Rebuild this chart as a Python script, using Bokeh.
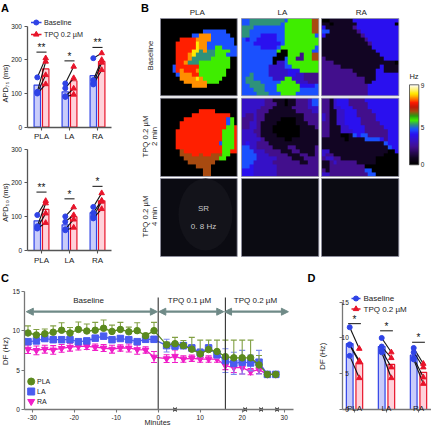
import numpy as np
from bokeh.plotting import figure
from bokeh.layouts import column, row
from bokeh.models import Range1d, FixedTicker, Arrow, NormalHead, LinearColorMapper
from bokeh.core.properties import value
from bokeh.embed import file_html
from bokeh.resources import INLINE

FONT = "Liberation Sans"
BLUE, BLUE_FILL = "#2f43e6", "#c9ccfa"
RED, RED_FILL = "#e8142a", "#ffd2da"
GREEN, GREEN_ERR, LAB, MAG = "#5b8a1e", "#82a044", "#4a5cf0", "#f01ec8"
ARROW = "#6f8a87"

# ---------- panel A data
regions = ["PLA", "LA", "RA"]
apd75_base_bar = [125, 105, 153]
apd75_tpq_bar = [173, 138, 195]
apd75_base_pts = [[148, 105, 102, 100], [130, 116, 92, 90], [205, 140, 130, 127]]
apd75_tpq_pts = [[205, 195, 155, 128], [180, 146, 115, 97], [220, 200, 192, 170]]
apd75_sig = [223, 197, 237]
apd50_base_bar = [88, 76, 112]
apd50_tpq_bar = [122, 100, 147]
apd50_base_pts = [[105, 72, 67, 65], [101, 85, 63, 60], [129, 112, 100, 95]]
apd50_tpq_pts = [[147, 140, 110, 82], [128, 105, 92, 68], [170, 148, 145, 123]]
apd50_sig = [173, 153, 190]
sig_marks_75 = ["**", "*", "**"]
sig_marks_50 = ["**", "*", "*"]

# ---------- panel C data
c_minutes = [-31, -29, -27, -25, -23, -21, -19, -17, -15, -13, -11, -9, -7, -5, -3, -1,
             2, 4, 6, 8, 10, 12, 14, 16, 18, 20, 22, 24, 26, 28]
pla_df = [9.7, 9.45, 9.6, 9.8, 10.05, 9.7, 10.15, 9.95, 10.05, 10.3, 9.9, 10.15, 9.85, 10.0, 9.35, 10.0,
          8.2, 8.35, 8.1, 7.65, 7.05, 7.6, 7.35, 6.7, 6.55, 6.55, 6.55, 5.65, 4.45, 4.45]
pla_err = [0.9, 0.7, 0.6, 0.8, 0.95, 0.7, 0.95, 0.9, 1.0, 1.05, 0.8, 0.9, 0.6, 1.0, 0.3, 1.05,
           0.35, 0.8, 0.65, 1.5, 1.75, 1.2, 1.45, 2.1, 2.25, 2.25, 2.25, 1.2, 0, 0]
la_df = [8.6, 8.7, 9.0, 8.85, 8.85, 8.85, 8.6, 8.7, 9.05, 9.3, 8.85, 9.0, 8.85, 8.6, 8.9, 8.9,
         8.1, 8.05, 8.1, 7.8, 7.2, 7.8, 7.0, 6.2, 5.85, 6.0, 5.9, 6.0, 4.45, 4.45]
la_err = [0.3, 0.3, 0.3, 0.3, 0.3, 0.3, 0.3, 0.3, 0.3, 0.3, 0.3, 0.3, 0.3, 0.3, 0.3, 0.3,
          0.8, 0.4, 0.4, 0.4, 0.5, 0.4, 0.5, 1.5, 1.4, 1.5, 1.0, 1.5, 0, 0]
ra_df = [7.65, 7.5, 7.65, 7.55, 7.75, 7.9, 8.0, 8.0, 7.9, 7.8, 7.65, 7.8, 7.8, 7.6, 7.55, 6.65,
         6.45, 6.75, 6.4, 6.5, 6.4, 6.4, 6.4, 5.55, 5.3, 5.3, 4.8, 5.05, 4.45, 4.45]
ra_err = [0.55, 0.55, 0.5, 0.55, 0.5, 0.5, 0.45, 0.4, 0.4, 0.45, 0.5, 0.4, 0.5, 0.6, 0.4, 0.7,
          0.5, 0.8, 0.4, 0.4, 0.4, 0.4, 0.4, 0.5, 0.6, 0.8, 0.4, 0.5, 0, 0]
c_x_marks = [4, 20.7, 24.5, 28.3]

# ---------- panel D data
d_base_bar = [9.2, 8.8, 7.6]
d_tpq_bar = [6.5, 6.3, 5.2]
d_base_pts = [[11.5, 9.1, 9.0, 7.5], [10.0, 8.8, 8.3, 8.0], [8.6, 8.0, 7.2, 7.0]]
d_tpq_pts = [[8.5, 6.8, 6.6, 4.4], [8.0, 7.2, 5.9, 4.4], [6.4, 5.9, 4.5, 3.6]]
d_sig = [12.0, 11.0, 9.4]

# ---------- panel B data: dominant frequency maps, one letter per cell
hz = {".": 0.0, "a": 0.8, "b": 2.0, "c": 2.8, "d": 3.4, "e": 4.0, "f": 4.5, "g": 5.0,
      "h": 6.0, "r": 7.0, "o": 7.5, "y": 8.0}
map_base_pla = [
    "....................", "....................", "....................",
    "...........eeeeee...", "........eeoooeeeee..", ".....rrrrooooeeeeee.",
    "....rrrrryooeeeeeee.", "....rrrrryooeeggeeee", "....rrrryyfoffggggee",
    "....rrroyfffffgggeee", "....rrrofffffggggg..", "....rrofffgggggggg..",
    "...errrrrrgggggggg..", "...erorrroggggggg...", "....eooorrggggggg...",
    ".....ooooyoggggg....", "......ooooooggg.....", "........oooo........",
    "....................", "...................."]
map_base_la = [
    "eefffffffffegggggghh", "eeffffffffeggggggghh", "fffeeeeeeeeggggggghh",
    "ffeeeeeeeeeggggggghh", "ffeeeddddeegggggggge", "edeedddddeeggggggggg",
    "eeedddddddeggggggggg", "eeeeeddddeggggggggge", "eeeeeeeeeg..ggggggee",
    "eeeeeeeee...gggbgghh", "eeeeeeee...eggbbgghh", "eeeeeeee.ccegggggggg",
    "eeeeeeecccceeggggggg", "eeeeeeecccccdddggggg", "eefeeeecccccddccbbbb",
    "effeeeeecccggcccbbbb", "effffeeeeeggggcccbbb", "eeffffeeeggggggdddde",
    "eeefffeeeggggggeeeee", "eeeefffeeeggggeeeeee"]
map_base_ra = [
    "..aaaaaadddddddddddd", "aa.aaaaaadddddddddd", "daaaaaaabddddddddddd",
    "eeaaaaaaabdddddddddd", "daaaaaaaaabddddddddd", "aaaaaaaaaaabdddddddd",
    "aaaaaaaaaaaabddddddd", "aaaaaaaaaaaaaddddddd", "aaaaaaaaaaaaaadddddd",
    "aaaaaaaaaaaaaaaddddd", "baaaaaaaaaaaaaaadddd", "bbbaaaaaaaaaaaaaaaa.",
    "bbbbbaaaaaaaaaadaaaa", "bbbbbbbbaaaaaaddaaaa", "bbbbbbbbbaaaaadddddd",
    "bbbbbbbbbbbaaadddddd", "bbbbbbbbbbbaaddddddd", "bbbbbbbbbbbbdddddddd",
    "bbbbbbbbbbbbdddddddd", "bbbbbbbbbbbbdddddddd"]
map_2min_pla = [
    "....................", "....................", "....................",
    "..........rrrr......", "........rrrrrrrrrr..", "......rrrrrrrrrrreg.",
    ".....rrrrrrrrrrrreg.", ".....rrrrrrrrrrrrggr", "....rrrrrrrrrrrrgggr",
    "....rrrrrrrrrrrrgggr", "....rrrrrrrrrrrrgggr", "....rrrrrrrrrrregggr",
    "....rrrrrrrrrrrrgggr", ".....hrrrrrrrrrrggrr", ".....hhhrrhrrhhhgg..",
    "......hhhhhhhhhgg...", ".......hhhhhhh......", ".........hhhh.......",
    "...........hh.......", "...........hh......."]
map_2min_la = [
    "ccccccbbaaa.aabbbcee", "ccccccbbbaa.aabbbcee", "cccccbbbaaaaabbbbccc",
    "ccccbbbaaaaaaabbbbcc", "cbbcbbaaaaaaaaaabbbb", "bbbcbbaaaa....aabbbb",
    "bbccbaaaa.....aaabbb", "bbccbaaa.......aaaab", "cccbbaaa.......aaaaa",
    "ccccbaaaa......aaaaa", "cccccbaaaaa..aaaaaaa", "cdccbbbaaaaaaaaaaaaa",
    "eeccbbbbaaaabbaaaaab", "eeecccbbbbaaabbaaaab", "eeeecccbbbbbaaabbaab",
    "eeeecccccbbbbaaabbbb", "eeecccccbbbbbbbaabbb", "eedccccccbbbbbbbbbbb",
    "dddccccccbbbbbbbbbbb", "dddccccccbbbbbbbbbbb"]
map_2min_ra = [
    "bbacdddbbbbddddddddd", "bbacdddbbbbbdddddddd", "bbaccdddbbbbdddddddd",
    "bbaaccdddbbbbddddddd", "cbaaccdddbbbbbdddddd", "cbaaccddddbbbbdddddd",
    "bbaaccddddbbbbbddddd", "bbaaaccddddbbbbbdddd", "bbaaacccdddbbbbbbddd",
    "bbaaa..aedeebbbbbddd", "aaaaaa.aaaaeeeedbddd", "aaaaaaaaaaaaaaaaeddd",
    "aaaaaaaaaaaaaaaaaedd", "ccaaaaaaaaaaaaaaa..d", "cbbaaaaaaaaaaaaa....",
    "bccbbaaaaaaaaa......", "aabcbbbbbaaaaa......", "aabbbbbbbbb.........",
    "babbbbbbbbbee.......", "ccbbbbbbbbbbee......"]
col_titles = ["PLA", "LA", "RA"]

# colour scale anchors of the map: Hz, colour
scale_hz = [0, 0.8, 2, 2.8, 3.4, 4, 4.5, 5, 5.5, 6, 6.5, 7, 7.5, 8, 9]
scale_col = ["#000000", "#130625", "#43108f", "#3512c8", "#2a10f0", "#1a52ff", "#2e8f7f", "#40f000",
             "#2a9a10", "#a84a10", "#c01808", "#ff1a00", "#ff8c00", "#ffe800", "#ffffff"]


def palette():
    rgb = np.array([[int(c[i:i + 2], 16) for i in (1, 3, 5)] for c in scale_col], float)
    g = np.linspace(0, 9, 256)
    out = np.stack([np.interp(g, scale_hz, rgb[:, k]) for k in range(3)], 1).astype(int)
    return ["#%02x%02x%02x" % tuple(v) for v in out]


def make(px, py, xcal, ycal):
    """figure covering page box px, py; xcal/ycal = ((data, pagepx), (data, pagepx))."""
    (d0, p0), (d1, p1) = xcal
    sx = (d1 - d0) / (p1 - p0)
    xr = Range1d(d0 + (px[0] - p0) * sx, d0 + (px[1] - p0) * sx)
    (e0, q0), (e1, q1) = ycal
    sy = (e1 - e0) / (q1 - q0)
    yr = Range1d(e0 + (py[1] - q0) * sy, e0 + (py[0] - q0) * sy)
    p = figure(width=px[1] - px[0], height=py[1] - py[0], x_range=xr, y_range=yr,
               output_backend="svg", toolbar_location=None, min_border=0,
               min_border_left=0, min_border_right=0, min_border_top=0, min_border_bottom=0)
    p.grid.visible = False
    p.outline_line_color = None
    p.background_fill_color = None
    p.border_fill_color = None
    p._X = lambda v: d0 + (v - p0) * sx
    p._Y = lambda v: e0 + (v - q0) * sy
    return p


def txt(p, x, y, s, size, color="#222222", angle=0, align="center", bold=False):
    p.text([p._X(x)], [p._Y(y)], text=[s], text_font=value(FONT), text_font_size=f"{size}px",
           text_color=color, angle=angle, text_align=align, text_baseline="middle",
           text_font_style="bold" if bold else "normal")


def style_axes(p, xloc, yloc, xticks, yticks, xbounds, ybounds, xlabs=None, col="#555555",
               xsize=8, ysize=6.5, standoff=2):
    xa, ya = p.xaxis[0], p.yaxis[0]
    xa.fixed_location, ya.fixed_location = xloc, yloc
    xa.ticker = FixedTicker(ticks=xticks)
    ya.ticker = FixedTicker(ticks=yticks)
    if xlabs:
        xa.major_label_overrides = xlabs
    xa.bounds, ya.bounds = xbounds, ybounds
    for a, size in ((xa, xsize), (ya, ysize)):
        a.axis_line_color = col
        a.axis_line_width = 1.3
        a.major_tick_line_color = col
        a.major_tick_line_width = 1.1
        a.major_tick_in = 0
        a.major_tick_out = 3
        a.minor_tick_line_color = None
        a.major_label_text_font = FONT
        a.major_label_text_font_size = f"{size}px"
        a.major_label_text_color = "#222222"
        a.major_label_standoff = standoff


def paired(p, base_bar, tpq_bar, base_pts, tpq_pts, sig, marks, off, w, msize, sig_dy, ext=0.03):
    xs = np.arange(3)
    p.vbar(xs - off, top=base_bar, width=w, fill_color=BLUE_FILL, line_color=BLUE, line_width=1.2)
    p.vbar(xs + off, top=tpq_bar, width=w, fill_color=RED_FILL, line_color=RED, line_width=1.2)
    for i in range(3):
        p.segment([i - off] * 4, base_pts[i], [i + off] * 4, tpq_pts[i], line_color="#111111", line_width=1.1)
        p.scatter([i - off] * 4, base_pts[i], marker="circle", size=msize, color=BLUE)
        p.scatter([i + off] * 4, tpq_pts[i], marker="triangle", size=msize + 0.5, color=RED)
        p.segment([i - off - ext], [sig[i]], [i + off + ext], [sig[i]], line_color="#111111", line_width=1)
        p.text([i], [sig[i] + sig_dy], text=[marks[i]], text_font=value(FONT), text_font_size="10px",
               text_align="center", text_baseline="middle", text_color="#111111")


def legend(p, lx0, lx1, tx, y1, y2, msize=5, size=7.2):
    p.line([p._X(lx0), p._X(lx1)], [p._Y(y1)] * 2, line_color=BLUE, line_width=1.3)
    p.scatter([p._X((lx0 + lx1) / 2)], [p._Y(y1)], marker="circle", size=msize, color=BLUE)
    txt(p, tx, y1, "Baseline", size, align="left")
    p.line([p._X(lx0), p._X(lx1)], [p._Y(y2)] * 2, line_color=RED, line_width=1.3)
    p.scatter([p._X((lx0 + lx1) / 2)], [p._Y(y2)], marker="triangle", size=msize + 0.5, color=RED)
    txt(p, tx, y2, "TPQ 0.2 µM", size, align="left")


reg_labels = {0: "PLA", 1: "LA", 2: "RA"}

# ---------- A top
a1 = make((0, 140), (0, 142), ((0, 41), (1, 69)), ((0, 126.7), (300, 25.7)))
paired(a1, apd75_base_bar, apd75_tpq_bar, apd75_base_pts, apd75_tpq_pts, apd75_sig, sig_marks_75, 0.15, 0.23, 5, 14)
style_axes(a1, 0, a1._X(26.5), [0, 1, 2], [0, 100, 200, 300], (a1._X(26.5), a1._X(111)), (0, 300), reg_labels)
legend(a1, 30.5, 41, 43.5, 22, 34)
txt(a1, 4.7, 83, "APD₇₅ (ms)", 7.5, angle=np.pi / 2)
txt(a1, 4.5, 7.5, "A", 11, color="#000000", bold=True)

# ---------- A bottom
a2 = make((0, 140), (142, 270), ((0, 41), (1, 69)), ((0, 250), (300, 148.7)))
paired(a2, apd50_base_bar, apd50_tpq_bar, apd50_base_pts, apd50_tpq_pts, apd50_sig, sig_marks_50, 0.15, 0.23, 5, 14)
style_axes(a2, 0, a2._X(26.5), [0, 1, 2], [0, 100, 200, 300], (a2._X(26.5), a2._X(111)), (0, 300), reg_labels)
txt(a2, 4.7, 202, "APD₅₀ (ms)", 7.5, angle=np.pi / 2)

# ---------- B
b = make((140, 431), (0, 270), ((140, 140), (431, 431)), ((0, 0), (270, 270)))
b.y_range = Range1d(-270, 0)
b._Y = lambda v: -v
b.xaxis.visible = False
b.yaxis.visible = False
mapper = LinearColorMapper(palette=palette(), low=0, high=9)
col_x = [(160, 236.7), (241, 318.3), (321, 398.3)]
row_y = [(18, 95.3), (97.7, 176), (178, 256)]
grids = [[map_base_pla, map_base_la, map_base_ra], [map_2min_pla, map_2min_la, map_2min_ra]]
for r, (y0, y1) in enumerate(row_y):
    for c, (x0, x1) in enumerate(col_x):
        if r < 2:
            arr = np.array([[hz[ch] for ch in line.ljust(20, ".")[:20]] for line in grids[r][c]])[::-1]
            b.image(image=[arr], x=x0, y=-y1, dw=x1 - x0, dh=y1 - y0, color_mapper=mapper)
        else:
            b.quad(left=x0, right=x1, top=-y0, bottom=-y1, fill_color="#0b0b12", line_color=None)
        b.quad(left=x0, right=x1, top=-y0, bottom=-y1, fill_color=None, line_color="#8f8fa0", line_width=0.8)
b.ellipse(x=[205], y=[-214], width=[54], height=[72], fill_color="#13131a", line_color=None)
for name, x in zip(col_titles, (196.7, 282, 360.7)):
    txt(b, x, 11.5, name, 8)
txt(b, 149.5, 55, "Baseline", 7.8, angle=np.pi / 2)
txt(b, 145, 136, "TPQ 0.2 µM", 7.8, angle=np.pi / 2)
txt(b, 154, 136, "2 min", 7.8, angle=np.pi / 2)
txt(b, 145, 216, "TPQ 0.2 µM", 7.8, angle=np.pi / 2)
txt(b, 154, 216, "4 min", 7.8, angle=np.pi / 2)
txt(b, 203, 207.7, "SR", 8, color="#c8c8c8")
txt(b, 203, 226, "0. 8 Hz", 8, color="#c8c8c8")
txt(b, 413.5, 76, "Hz", 7.5)
txt(b, 422, 85, "9", 6.5)
txt(b, 422, 127, "5", 6.5)
txt(b, 422, 163.5, "0", 6.5)
bar_vals = np.linspace(0, 9, 256).reshape(-1, 1)
b.image(image=[bar_vals], x=409, y=-164.3, dw=9.3, dh=80, color_mapper=mapper)
b.quad(left=409, right=418.3, top=-84.3, bottom=-164.3, fill_color=None, line_color="#444444", line_width=0.8)
txt(b, 144.5, 7, "B", 11, color="#000000", bold=True)

# ---------- C
cf = make((0, 300), (270, 434), ((0, 157.7), (10, 199.7)), ((0, 409), (15, 290.7)))
style_axes(cf, 0, cf._X(24.3), [-30, -20, -10, 0, 10, 20, 30], [0, 5, 10, 15],
           (cf._X(24.3), cf._X(292.7)), (0, 15), {-30: "-30", -20: "-20", -10: "-10"},
           col="#777777", xsize=6.5, ysize=6.5)
x_c = np.array(c_minutes, float)
for y, e, col, ecol, mk, ms, up_only in ((ra_df, ra_err, MAG, MAG, "inverted_triangle", 6.5, False),
                                          (la_df, la_err, LAB, "#7c88ef", "square", 6.5, False),
                                          (pla_df, pla_err, GREEN, GREEN_ERR, "circle", 6.5, True)):
    y, e = np.array(y), np.array(e)
    lo = y if up_only else y - e
    hi = y + e
    keep = e > 0
    cf.segment(x_c[keep], lo[keep], x_c[keep], hi[keep], line_color=ecol, line_width=1.1)
    cf.scatter(x_c[keep], hi[keep], marker="dash", size=6, line_color=ecol, line_width=1.1)
    if not up_only:
        cf.scatter(x_c[keep], lo[keep], marker="dash", size=6, line_color=ecol, line_width=1.1)
    cf.line(x_c, y, line_color=col, line_width=1.3)
    cf.scatter(x_c, y, marker=mk, size=ms, color=col)
cf.scatter(c_x_marks, [0] * len(c_x_marks), marker="x", size=5, line_color="#111111", line_width=1.1)
for xv in (0, 16):
    cf.segment([xv], [0], [xv], [14.2], line_color="#333333", line_width=1.1)
for s, e in ((-31.4, -0.2), (0.14, 15.6), (15.8, 31.0)):
    cf.add_layout(Arrow(x_start=s, x_end=e, y_start=12.4, y_end=12.4, line_color=ARROW, line_width=2.2,
                        start=NormalHead(size=7, fill_color=ARROW, line_color=ARROW),
                        end=NormalHead(size=7, fill_color=ARROW, line_color=ARROW)))
txt(cf, 88, 299.5, "Baseline", 8)
txt(cf, 189, 299.5, "TPQ 0.1 µM", 8)
txt(cf, 255, 299.5, "TPQ 0.2 µM", 8)
txt(cf, 5, 350.7, "DF (Hz)", 8, angle=np.pi / 2)
txt(cf, 157, 422, "Minutes", 7.4)
for s, y, mk, col, ms in (("PLA", 381, "circle", GREEN, 7), ("LA", 391, "square", LAB, 7),
                          ("RA", 401, "inverted_triangle", MAG, 7)):
    cf.scatter([cf._X(30.7)], [cf._Y(y)], marker=mk, size=ms, color=col)
    txt(cf, 36.5, y, s, 7, align="left")
txt(cf, 4.5, 277, "C", 11, color="#000000", bold=True)

# ---------- D
df = make((300, 431), (270, 434), ((0, 354), (1, 386)), ((0, 409), (15, 301.7)))
paired(df, d_base_bar, d_tpq_bar, d_base_pts, d_tpq_pts, d_sig, ["*", "*", "*"], 0.15, 0.21, 5, 0.6, ext=0.05)
style_axes(df, 0, df._X(342.3), [0, 1, 2], [0, 5, 10, 15], (df._X(342.3), df._X(430.7)), (0, 15), reg_labels,
           col="#777777", xsize=8, ysize=6.5, standoff=-9)
legend(df, 351, 360, 363, 298, 308.5, size=8)
txt(df, 321.7, 355.7, "DF (Hz)", 7.7, angle=np.pi / 2)
txt(df, 311, 277, "D", 11, color="#000000", bold=True)

page = column(row(column(a1, a2, spacing=0), b, spacing=0), row(cf, df, spacing=0), spacing=0)
open("out.html", "w").write(file_html(page, INLINE))
